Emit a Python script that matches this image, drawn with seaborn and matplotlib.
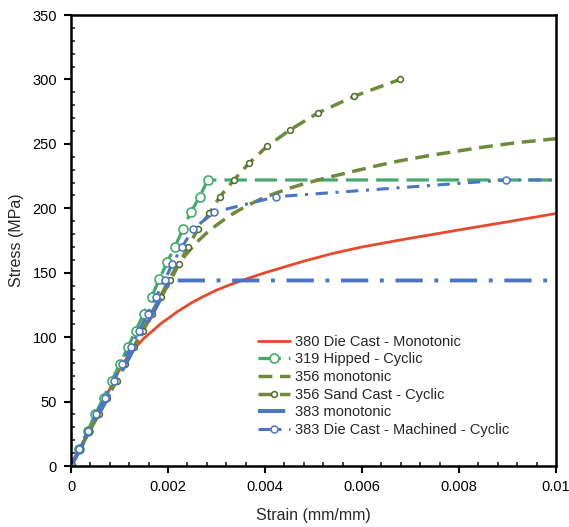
import numpy as np
import pandas as pd
import matplotlib
matplotlib.use("Agg")
import matplotlib.pyplot as plt
import seaborn as sns
from matplotlib.ticker import MultipleLocator, FixedLocator, FixedFormatter

# values
die380_strain = [0, 0.0005, 0.001, 0.0011, 0.0012, 0.0013, 0.0014, 0.0015, 0.0017, 0.00185,
                 0.002, 0.0022, 0.0025, 0.0027, 0.003, 0.0033, 0.0036, 0.004, 0.0044, 0.0048,
                 0.0054, 0.006, 0.0068, 0.0075, 0.0082, 0.009, 0.01]
die380_stress = [0, 37, 75, 81, 86.5, 91, 95, 99, 105.5, 110.5, 114.5, 120, 127, 131, 136.5,
                 141, 145, 150, 154.5, 159, 165, 170, 175.5, 180, 184.5, 189.5, 196]

hip319_strain = [0, 0.00017, 0.00034, 0.0005, 0.00067, 0.00084, 0.001, 0.00117, 0.00133,
                 0.0015, 0.00166, 0.00182, 0.00198, 0.00214, 0.00231, 0.00247, 0.00265,
                 0.00282, 0.01]
hip319_stress = [0, 13, 27, 40, 53, 66, 79, 92, 105, 118, 131, 145, 158, 170, 184, 197, 209,
                 222, 222]

mono356_strain = [0, 0.0021, 0.0022, 0.0023, 0.0024, 0.0026, 0.0028, 0.003, 0.0033, 0.0036,
                  0.0039, 0.0042, 0.0045, 0.0048, 0.0053, 0.0058, 0.0063, 0.0068, 0.0074,
                  0.0079, 0.0085, 0.0092, 0.01]
mono356_stress = [0, 150, 156, 161, 165.5, 174, 181, 187, 195, 201.5, 207, 211.5, 215.5, 219,
                  224, 228.5, 233, 237, 241, 244, 247.5, 251, 254]

sand356_strain = [0, 0.00018, 0.00038, 0.00057, 0.00075, 0.00094, 0.00112, 0.0013, 0.00149,
                  0.00167, 0.00186, 0.00205, 0.00223, 0.00241, 0.00262, 0.00285, 0.00307,
                  0.00336, 0.00367, 0.00404, 0.00452, 0.00509, 0.00584, 0.00678]
sand356_stress = [0, 13, 27, 40, 53, 66, 79, 92, 105, 118, 131, 144, 157, 170, 184, 196, 209,
                  222, 235, 248, 261, 274, 287, 300]

mono383_strain = [0, 0.00205, 0.01]
mono383_stress = [0, 144, 144]

mach383_strain = [0, 0.00017, 0.00035, 0.00052, 0.0007, 0.00088, 0.00105, 0.00123, 0.0014,
                  0.00158, 0.00175, 0.00193, 0.00209, 0.00229, 0.00252, 0.00295, 0.00423,
                  0.00897, 0.01]
mach383_stress = [0, 13, 27, 40, 53, 66, 79, 92, 105, 118, 131, 144, 157, 170, 184, 197, 209,
                  222, 222]

x_ticks = [0, 0.002, 0.004, 0.006, 0.008, 0.01]
x_labels = ["0", "0.002", "0.004", "0.006", "0.008", "0.01"]

sns.set_style("white")
plt.rcParams['font.family'] = ['Liberation Sans', 'DejaVu Sans']

fig = plt.figure(figsize=(5.69, 5.27), dpi=100)
ax = fig.add_axes([0.1248, 0.1157, 0.8524, 0.8558])

red = "#e8492b"
green = "#45a96c"
olive = "#6f8a3a"
olive_dk = "#4f6a2a"
blue = "#4a74c6"

def draw(x, y, label, color, ls, lw, **kw):
    d = pd.DataFrame({"strain": x, "stress": y})
    sns.lineplot(data=d, x="strain", y="stress", ax=ax, sort=False, color=color,
                 linestyle=ls, linewidth=lw, label=label, **kw)

draw(die380_strain, die380_stress, "380 Die Cast - Monotonic", red, "-", 2.0)
draw(hip319_strain, hip319_stress, "319 Hipped - Cyclic", green, (0, (7, 2.5)), 2.3,
     marker="o", markersize=6.5, markerfacecolor="white", markeredgecolor=green,
     markeredgewidth=1.2, markevery=list(range(len(hip319_strain) - 1)))
draw(mono356_strain, mono356_stress, "356 monotonic", olive, (0, (4, 2.2)), 2.5)
draw(sand356_strain, sand356_stress, "356 Sand Cast - Cyclic", olive, (0, (4, 2.2)), 2.5,
     marker="o", markersize=4.2, markerfacecolor="white", markeredgecolor=olive_dk,
     markeredgewidth=1.1)
draw(mono383_strain, mono383_stress, "383 monotonic", blue, (0, (7, 3, 1, 3)), 2.8)
draw(mach383_strain, mach383_stress, "383 Die Cast - Machined - Cyclic", blue,
     (0, (4, 2.5, 1, 2.5)), 2.2,
     marker="o", markersize=5, markerfacecolor="white", markeredgecolor=blue,
     markeredgewidth=1.1, markevery=list(range(len(mach383_strain) - 1)))

ax.set_xlim(0, 0.01)
ax.set_ylim(0, 350)
ax.xaxis.set_major_locator(FixedLocator(x_ticks))
ax.xaxis.set_major_formatter(FixedFormatter(x_labels))
ax.xaxis.set_minor_locator(MultipleLocator(0.0004))
ax.yaxis.set_major_locator(MultipleLocator(50))
ax.yaxis.set_minor_locator(MultipleLocator(10))
ax.tick_params(which="major", direction="out", length=5, width=1.5, labelsize=10.5,
               bottom=True, left=True, top=False, right=False, pad=5, colors="black")
ax.tick_params(which="minor", direction="in", length=3, width=1.2,
               bottom=True, left=True, top=False, right=False)
for s in ax.spines.values():
    s.set_visible(True)
    s.set_color("black")
    s.set_linewidth(1.8)

ax.set_xlabel("Strain (mm/mm)", fontsize=11.5, labelpad=10)
ax.set_ylabel("Stress (MPa)", fontsize=11.5, labelpad=6)

leg = ax.legend(loc="upper left", bbox_to_anchor=(0.386, 0.291), frameon=False,
                fontsize=10.5, handlelength=2.2, handletextpad=0.3, labelspacing=0.25,
                borderpad=0, borderaxespad=0)

fig.savefig("out.png", dpi=100)
